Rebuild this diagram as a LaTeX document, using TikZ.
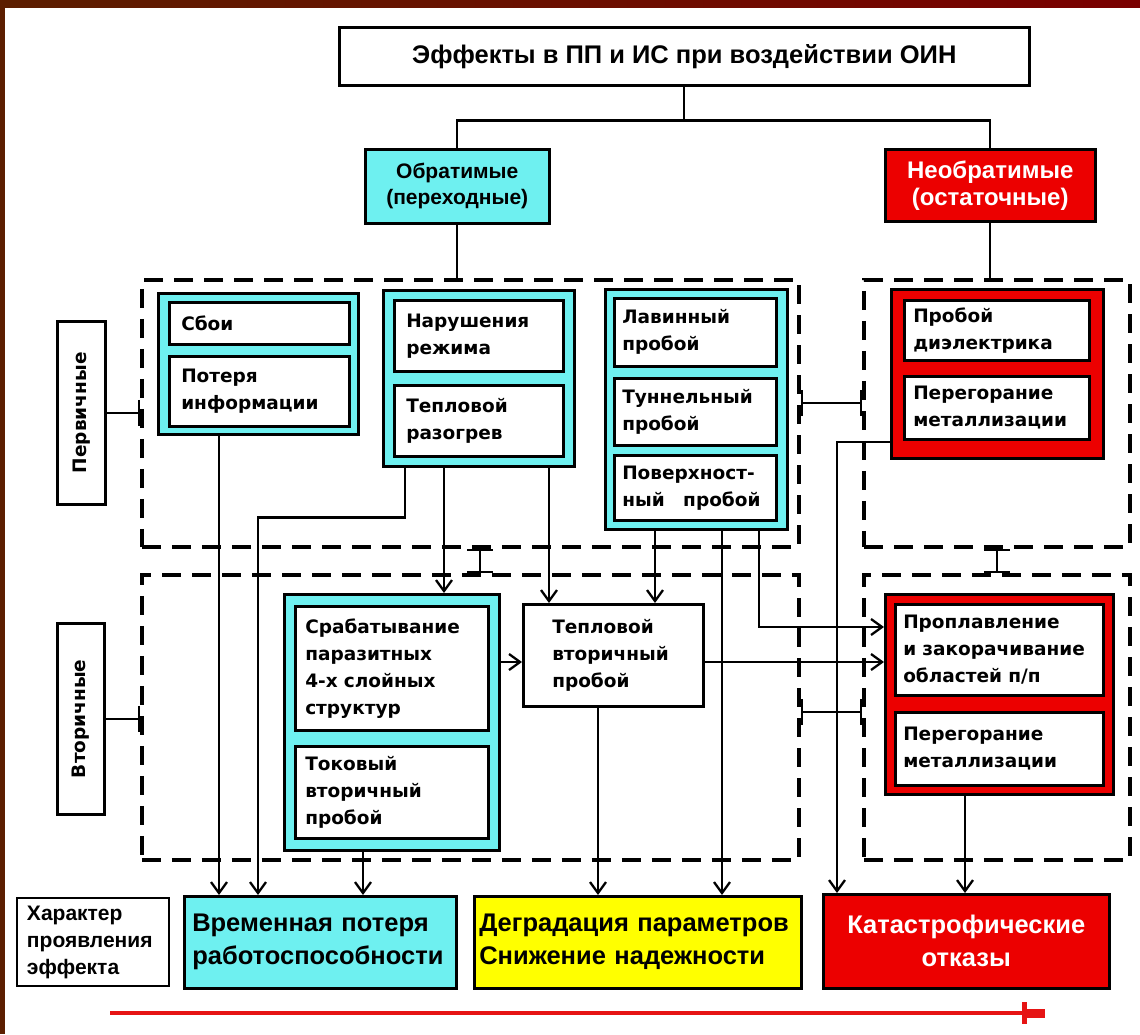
\documentclass[tikz,border=0pt]{standalone}
\usepackage{fontspec}
\setmainfont{DejaVu Sans}
\newfontfamily\arialfont{Liberation Sans}
\usetikzlibrary{arrows.meta}

\definecolor{frameL}{RGB}{92,30,0}
\definecolor{frameR}{RGB}{122,0,0}
\definecolor{cyanfill}{RGB}{110,240,240}
\definecolor{redfill}{RGB}{236,0,0}
\definecolor{yellowfill}{RGB}{255,255,0}
\definecolor{arrowred}{RGB}{230,20,20}

\tikzset{
  plainbox/.style={draw, line width=2.5pt, anchor=north west, inner sep=0pt},
  cyangroup/.style={plainbox, fill=cyanfill},
  redgroup/.style={plainbox, fill=redfill},
  inbox/.style={draw, line width=2.5pt, fill=white, anchor=north west,
    inner xsep=12pt, inner ysep=0pt, align=left,
    font=\bfseries\fontsize{18.5}{27}\selectfont},
  region/.style={draw, line width=3.5pt, dash pattern=on 19pt off 11pt,
    anchor=north west, inner sep=0pt},
  effbox/.style={draw, line width=2.5pt, anchor=north west, inner ysep=0pt,
    font=\arialfont\bfseries\fontsize{25.5}{33}\selectfont},
  link/.style={line width=2.3pt},
  arr/.style={link, -{Straight Barb[length=11pt,width=16pt,line width=2.3pt]}},
  tee/.style={link, {Bar[width=26pt,line width=2.5pt]}-{Bar[width=26pt,line width=2.5pt]}}
}

\begin{document}
\begin{tikzpicture}[x=1pt,y=-1pt]
\useasboundingbox (0,0) rectangle (1140,1034);
\fill[white] (0,0) rectangle (1140,1034);
\shade[left color=frameL, right color=frameR] (0,0) rectangle (1140,7);
\fill[frameL] (0,0) rectangle (5,1034);

% top level
\node[plainbox, fill=white, minimum width=690pt, minimum height=58pt,
  font=\arialfont\bfseries\fontsize{25.5}{30}\selectfont] (title) at (338,26)
  {Эффекты в ПП и ИС при воздействии ОИН};
\node[cyangroup, minimum width=184pt, minimum height=74pt, align=center,
  font=\arialfont\bfseries\fontsize{21}{26}\selectfont] (obr) at (364,148)
  {Обратимые\\(переходные)};
\node[redgroup, minimum width=210pt, minimum height=72pt, align=center,
  text=white, font=\arialfont\bfseries\fontsize{24}{27}\selectfont] (neobr) at (884,148)
  {Необратимые\\(остаточные)};

% dashed regions
\node[region, minimum width=657pt, minimum height=267pt] (prim) at (140,278) {};
\node[region, minimum width=266pt, minimum height=267pt] (primR) at (862,278) {};
\node[region, minimum width=657pt, minimum height=285pt] (sec) at (140,573) {};
\node[region, minimum width=266pt, minimum height=285pt] (secR) at (862,573) {};

% side labels
\node[plainbox, fill=white, minimum width=48pt, minimum height=183pt,
  font=\bfseries\fontsize{18.5}{22}\selectfont] (perv) at (56,320)
  {\rotatebox{90}{Первичные}};
\node[plainbox, fill=white, minimum width=47pt, minimum height=191pt,
  font=\bfseries\fontsize{18.5}{22}\selectfont] (vtor) at (56,622)
  {\rotatebox{90}{Вторичные}};

% primary, reversible
\node[cyangroup, minimum width=200pt, minimum height=141pt] (g1) at (157,292) {};
\node[inbox, minimum width=180pt, minimum height=42pt, text width=156pt] (sboi) at (168,301) {Сбои};
\node[inbox, minimum width=180pt, minimum height=70pt, text width=156pt] (poter) at (168,355) {Потеря\\информации};

\node[cyangroup, minimum width=191pt, minimum height=176pt] (g2) at (382,289) {};
\node[inbox, minimum width=169pt, minimum height=71pt, text width=145pt] (narush) at (393,299) {Нарушения\\режима};
\node[inbox, minimum width=169pt, minimum height=71pt, text width=145pt] (razogr) at (393,384) {Тепловой\\разогрев};

\node[cyangroup, minimum width=182pt, minimum height=240pt] (g3) at (604,288) {};
\node[inbox, minimum width=162pt, minimum height=68pt, inner xsep=8pt, text width=146pt] (lavin) at (613,297) {Лавинный\\пробой};
\node[inbox, minimum width=162pt, minimum height=67pt, inner xsep=8pt, text width=146pt] (tunnel) at (613,377) {Туннельный\\пробой};
\node[inbox, minimum width=162pt, minimum height=65pt, inner xsep=8pt, text width=146pt] (poverh) at (613,454) {Поверхност-\\ный\quad пробой};

% primary, irreversible
\node[redgroup, minimum width=212pt, minimum height=169pt] (r1) at (890,288) {};
\node[inbox, minimum width=185pt, minimum height=60pt, inner xsep=9pt, text width=167pt] (dielek) at (903,299) {Пробой\\диэлектрика};
\node[inbox, minimum width=185pt, minimum height=63pt, inner xsep=9pt, text width=167pt] (metal1) at (903,375) {Перегорание\\металлизации};

% secondary, reversible
\node[cyangroup, minimum width=215pt, minimum height=256pt] (g4) at (283,593) {};
\node[inbox, minimum width=193pt, minimum height=124pt, inner xsep=10pt, text width=173pt] (srab) at (294,605)
  {Срабатывание\\паразитных\\4-х слойных\\структур};
\node[inbox, minimum width=193pt, minimum height=92pt, inner xsep=10pt, text width=173pt] (tokov) at (294,745)
  {Токовый\\вторичный\\пробой};
\node[inbox, minimum width=180pt, minimum height=102pt, inner xsep=0pt, text width=122pt] (tvp) at (522,603)
  {Тепловой\\вторичный\\пробой};

% secondary, irreversible
\node[redgroup, minimum width=228pt, minimum height=200pt] (r2) at (884,593) {};
\node[inbox, minimum width=208pt, minimum height=91pt, inner xsep=8pt, text width=192pt] (proplav) at (894,603)
  {Проплавление\\и закорачивание\\областей п/п};
\node[inbox, minimum width=208pt, minimum height=73pt, inner xsep=8pt, text width=192pt] (metal2) at (894,711)
  {Перегорание\\металлизации};

% effect character
\node[plainbox, line width=2pt, fill=white, minimum width=152pt, minimum height=88pt,
  inner xsep=10pt, text width=132pt, align=left,
  font=\arialfont\bfseries\fontsize{21}{27}\selectfont] (har) at (16,897)
  {Характер\\проявления\\эффекта};
\node[effbox, fill=cyanfill, minimum width=272pt, minimum height=92pt,
  inner xsep=8pt, text width=256pt, align=left] (vrem) at (183,895)
  {Временная потеря\\работоспособности};
\node[effbox, fill=yellowfill, minimum width=327pt, minimum height=92pt,
  inner xsep=5pt, text width=317pt, align=left] (degr) at (473,895)
  {Деградация параметров\\Снижение надежности};
\node[effbox, fill=redfill, text=white, minimum width=286pt, minimum height=94pt,
  inner xsep=5pt, text width=276pt, align=center] (kat) at (822,893)
  {Катастрофические\\отказы};

% tree
\draw[link] (title.south) -- ++(0,34) coordinate (fork) -| (obr.north);
\draw[link] (fork) -| (neobr.north);
\draw[link] (obr.south) -- (obr.south |- prim.north);
\draw[link] (neobr.south) -- (neobr.south |- primR.north);

% region links
\draw[link,-{Bar[width=26pt,line width=2.5pt]}] (perv.east) -- (perv.east -| prim.west);
\draw[link,-{Bar[width=26pt,line width=2.5pt]}] (vtor.east) -- (vtor.east -| sec.west);
\draw[tee] ([xshift=340pt]prim.south west) -- ([xshift=340pt]sec.north west);
\draw[tee] (primR.south) -- (secR.north);
\draw[tee] ([yshift=-125pt]prim.north east) -- ([yshift=-125pt]primR.north west);
\draw[tee] ([yshift=-139pt]sec.north east) -- ([yshift=-139pt]secR.north west);

% flows
\draw[arr] ([xshift=62pt]g1.south west) -- ([xshift=62pt]g1.south west |- vrem.north);
\draw[arr] ([xshift=23pt]g2.south west) -- ++(0,50) -| ([xshift=75pt]vrem.north west);
\draw[arr] ([xshift=62pt]g2.south west) -- ([xshift=62pt]g2.south west |- g4.north);
\draw[arr] ([xshift=167pt]g2.south west) -- ([xshift=167pt]g2.south west |- tvp.north);
\draw[arr] ([xshift=51pt]g3.south west) -- ([xshift=51pt]g3.south west |- tvp.north);
\draw[arr] ([xshift=118pt]g3.south west) -- ([xshift=118pt]g3.south west |- degr.north);
\draw[arr] ([xshift=155pt]g3.south west) |- ([yshift=-34pt]r2.north west);
\draw[arr] ([yshift=-69pt]g4.north east) -- ([yshift=-69pt]g4.north east -| tvp.west);
\draw[arr] ([xshift=80pt]g4.south west) -- ([xshift=80pt]g4.south west |- vrem.north);
\draw[arr] ([yshift=-59pt]tvp.north east) -- ([yshift=-59pt]tvp.north east -| r2.west);
\draw[arr] ([xshift=76pt]tvp.south west) -- ([xshift=76pt]tvp.south west |- degr.north);
\draw[arr] ([yshift=-154pt]r1.north west) -| ([xshift=15pt]kat.north west);
\draw[arr] ([xshift=81pt]r2.south west) -- ([xshift=81pt]r2.south west |- kat.north);

% growth of severity
\coordinate (axis0) at (110,1013);
\coordinate (axis1) at (1045,1013);
\draw[arrowred, line width=3.5pt, -{Bar[width=22pt,line width=5pt]Rectangle[length=18pt,width=9pt]}] (axis0) -- (axis1);
\end{tikzpicture}
\end{document}
